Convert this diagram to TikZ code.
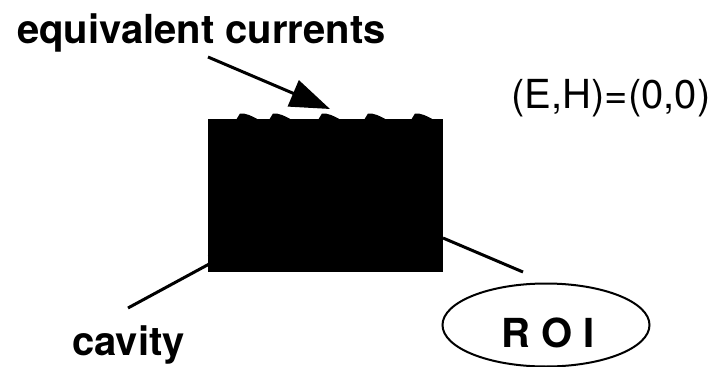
\documentclass[tikz,border=0pt]{standalone}
\usepackage{fontspec}
\setmainfont{TeX Gyre Heros}
\usetikzlibrary{arrows.meta,shapes.geometric,positioning,calc}
\tikzstyle{label}=[inner sep=0pt,font=\fontsize{40}{40}\selectfont\bfseries]
\tikzstyle{plainlabel}=[inner sep=0pt,font=\fontsize{40}{40}\selectfont]
\tikzstyle{pointer}=[draw,line width=3pt]
\tikzstyle{roi}=[ellipse,draw,line width=2pt,minimum width=207pt,minimum height=83pt,inner sep=0pt]

\begin{document}
\begin{tikzpicture}[x=1pt,y=-1pt]
    \useasboundingbox (0,0) rectangle (718,367);

    % cavity block with the current bumps on top
    \node[rectangle,fill=black,inner sep=0pt,minimum width=235pt,minimum height=153pt] (cav) at (325.5,195.5) {};
    \foreach \x in {236,269,318,364,411}
        \fill (\x,120) -- (\x+4,113.5) .. controls (\x+10,113) and (\x+16,116) .. (\x+23,120) -- cycle;

    \node[label,anchor=base] (eq) at (201.5,43) {equivalent currents};
    \node[plainlabel,anchor=base] (field) at (611,108) {(E,H)=(0,0)};
    \node[label,anchor=base] (cv) at (128.5,355) {cavity};
    \node[roi] (region) at (546,325) {};
    \node[label,anchor=base] (roitext) at (548,347) {R O I};

    \coordinate (eqstart) at (208,57);
    \coordinate (eqtip) at (330,109);
    \coordinate (cvstart) at (128,308);
    \coordinate (cvtip) at (224,256);
    \coordinate (roistart) at (443,238);
    \coordinate (roiend) at (523,272);

    \path[pointer,-{Triangle[length=40pt,width=28pt]}] (eqstart) -- (eqtip);
    \path[pointer,-{Triangle[length=14pt,width=15pt]}] (cvstart) -- (cvtip);
    \path[pointer] (roistart) -- (roiend);
\end{tikzpicture}
\end{document}
